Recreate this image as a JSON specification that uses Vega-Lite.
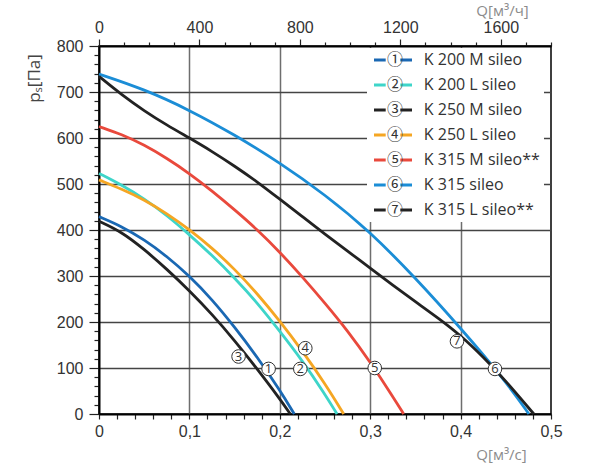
{
  "$schema": "https://vega.github.io/schema/vega-lite/v6.json",
  "width": 452,
  "height": 368,
  "autosize": {"type": "none"},
  "padding": {"left": 99, "top": 46, "right": 44, "bottom": 58},
  "background": "white",
  "config": {
    "view": {"stroke": "black", "strokeWidth": 1.5},
    "axis": {
      "labelFont": "Liberation Sans",
      "labelFontSize": 16,
      "labelColor": "#333333",
      "domainColor": "black",
      "domainWidth": 2,
      "tickColor": "#222222",
      "tickWidth": 1.2,
      "titleFont": "Open Sans",
      "titleFontWeight": "normal",
      "labelOverlap": false
    }
  },
  "datasets": {
    "curves": [
      {"series": "K 200 M sileo", "q": 0, "p": 429},
      {"series": "K 200 M sileo", "q": 0.025, "p": 408},
      {"series": "K 200 M sileo", "q": 0.05, "p": 379},
      {"series": "K 200 M sileo", "q": 0.075, "p": 343},
      {"series": "K 200 M sileo", "q": 0.1, "p": 300},
      {"series": "K 200 M sileo", "q": 0.125, "p": 249},
      {"series": "K 200 M sileo", "q": 0.15, "p": 189},
      {"series": "K 200 M sileo", "q": 0.175, "p": 124},
      {"series": "K 200 M sileo", "q": 0.2, "p": 52},
      {"series": "K 200 M sileo", "q": 0.216, "p": 0},

      {"series": "K 200 L sileo", "q": 0, "p": 523},
      {"series": "K 200 L sileo", "q": 0.025, "p": 498},
      {"series": "K 200 L sileo", "q": 0.05, "p": 468},
      {"series": "K 200 L sileo", "q": 0.075, "p": 432},
      {"series": "K 200 L sileo", "q": 0.1, "p": 390},
      {"series": "K 200 L sileo", "q": 0.125, "p": 345},
      {"series": "K 200 L sileo", "q": 0.15, "p": 296},
      {"series": "K 200 L sileo", "q": 0.175, "p": 242},
      {"series": "K 200 L sileo", "q": 0.2, "p": 180},
      {"series": "K 200 L sileo", "q": 0.225, "p": 116},
      {"series": "K 200 L sileo", "q": 0.25, "p": 43},
      {"series": "K 200 L sileo", "q": 0.2633, "p": 0},

      {"series": "K 250 M sileo", "q": 0, "p": 419},
      {"series": "K 250 M sileo", "q": 0.025, "p": 396},
      {"series": "K 250 M sileo", "q": 0.05, "p": 358},
      {"series": "K 250 M sileo", "q": 0.075, "p": 315},
      {"series": "K 250 M sileo", "q": 0.1, "p": 268},
      {"series": "K 250 M sileo", "q": 0.125, "p": 217},
      {"series": "K 250 M sileo", "q": 0.15, "p": 160},
      {"series": "K 250 M sileo", "q": 0.175, "p": 98},
      {"series": "K 250 M sileo", "q": 0.2, "p": 33},
      {"series": "K 250 M sileo", "q": 0.2116, "p": 0},

      {"series": "K 250 L sileo", "q": 0, "p": 509},
      {"series": "K 250 L sileo", "q": 0.025, "p": 489},
      {"series": "K 250 L sileo", "q": 0.05, "p": 466},
      {"series": "K 250 L sileo", "q": 0.075, "p": 436},
      {"series": "K 250 L sileo", "q": 0.1, "p": 401},
      {"series": "K 250 L sileo", "q": 0.125, "p": 361},
      {"series": "K 250 L sileo", "q": 0.15, "p": 315},
      {"series": "K 250 L sileo", "q": 0.175, "p": 262},
      {"series": "K 250 L sileo", "q": 0.2, "p": 202},
      {"series": "K 250 L sileo", "q": 0.225, "p": 137},
      {"series": "K 250 L sileo", "q": 0.25, "p": 66},
      {"series": "K 250 L sileo", "q": 0.2707, "p": 0},

      {"series": "K 315 M sileo**", "q": 0, "p": 625},
      {"series": "K 315 M sileo**", "q": 0.025, "p": 608},
      {"series": "K 315 M sileo**", "q": 0.05, "p": 585},
      {"series": "K 315 M sileo**", "q": 0.075, "p": 556},
      {"series": "K 315 M sileo**", "q": 0.1, "p": 523},
      {"series": "K 315 M sileo**", "q": 0.125, "p": 485},
      {"series": "K 315 M sileo**", "q": 0.15, "p": 444},
      {"series": "K 315 M sileo**", "q": 0.175, "p": 401},
      {"series": "K 315 M sileo**", "q": 0.2, "p": 352},
      {"series": "K 315 M sileo**", "q": 0.225, "p": 298},
      {"series": "K 315 M sileo**", "q": 0.25, "p": 241},
      {"series": "K 315 M sileo**", "q": 0.275, "p": 181},
      {"series": "K 315 M sileo**", "q": 0.3, "p": 113},
      {"series": "K 315 M sileo**", "q": 0.325, "p": 38},
      {"series": "K 315 M sileo**", "q": 0.337, "p": 0},

      {"series": "K 315 sileo", "q": 0, "p": 739},
      {"series": "K 315 sileo", "q": 0.05, "p": 706},
      {"series": "K 315 sileo", "q": 0.1, "p": 661},
      {"series": "K 315 sileo", "q": 0.15, "p": 607},
      {"series": "K 315 sileo", "q": 0.2, "p": 546},
      {"series": "K 315 sileo", "q": 0.25, "p": 477},
      {"series": "K 315 sileo", "q": 0.3, "p": 396},
      {"series": "K 315 sileo", "q": 0.35, "p": 296},
      {"series": "K 315 sileo", "q": 0.4, "p": 187},
      {"series": "K 315 sileo", "q": 0.45, "p": 71},
      {"series": "K 315 sileo", "q": 0.4755, "p": 0},

      {"series": "K 315 L sileo**", "q": 0, "p": 734},
      {"series": "K 315 L sileo**", "q": 0.025, "p": 694},
      {"series": "K 315 L sileo**", "q": 0.05, "p": 659},
      {"series": "K 315 L sileo**", "q": 0.075, "p": 628},
      {"series": "K 315 L sileo**", "q": 0.1, "p": 600},
      {"series": "K 315 L sileo**", "q": 0.125, "p": 571},
      {"series": "K 315 L sileo**", "q": 0.15, "p": 539},
      {"series": "K 315 L sileo**", "q": 0.175, "p": 505},
      {"series": "K 315 L sileo**", "q": 0.2, "p": 467},
      {"series": "K 315 L sileo**", "q": 0.225, "p": 429},
      {"series": "K 315 L sileo**", "q": 0.25, "p": 391},
      {"series": "K 315 L sileo**", "q": 0.275, "p": 354},
      {"series": "K 315 L sileo**", "q": 0.3, "p": 317},
      {"series": "K 315 L sileo**", "q": 0.325, "p": 280},
      {"series": "K 315 L sileo**", "q": 0.35, "p": 244},
      {"series": "K 315 L sileo**", "q": 0.375, "p": 209},
      {"series": "K 315 L sileo**", "q": 0.4, "p": 171},
      {"series": "K 315 L sileo**", "q": 0.425, "p": 124},
      {"series": "K 315 L sileo**", "q": 0.45, "p": 72},
      {"series": "K 315 L sileo**", "q": 0.481, "p": 0}
    ],
    "tags": [
      {"n": "1", "q": 0.1876, "p": 98},
      {"n": "2", "q": 0.2227, "p": 98},
      {"n": "3", "q": 0.1544, "p": 125},
      {"n": "4", "q": 0.2282, "p": 143},
      {"n": "5", "q": 0.305, "p": 100},
      {"n": "6", "q": 0.438, "p": 98},
      {"n": "7", "q": 0.396, "p": 158}
    ],
    "top": [{"qh": 0}, {"qh": 1800}]
  },
  "layer": [
    {
      "layer": [
        {
          "data": {"name": "curves"},
          "mark": {"type": "line", "interpolate": "basis", "strokeWidth": 2.8},
          "encoding": {
            "x": {
              "field": "q", "type": "quantitative",
              "scale": {"domain": [0, 0.5], "nice": false, "zero": false},
              "axis": {
                "orient": "bottom",
                "values": [0,0.02,0.04,0.06,0.08,0.1,0.12,0.14,0.16,0.18,0.2,0.22,0.24,0.26,0.28,0.3,0.32,0.34,0.36,0.38,0.4,0.42,0.44,0.46,0.48,0.5],
                "tickCount": 200,
                "labelExpr": "abs(datum.value*10 - round(datum.value*10)) < 0.000001 ? (datum.value == 0 ? '0' : replace(format(datum.value, '.1f'), '.', ',')) : ''",
                "labelPadding": 4,
                "tickSize": 5,
                "grid": true,
                "gridColor": "#6e6e6e",
                "gridWidth": 1.5,
                "gridOpacity": {"condition": {"test": "abs(datum.value*10 - round(datum.value*10)) < 0.000001 && datum.value > 0.01 && datum.value < 0.49", "value": 1}, "value": 0},
                "title": "Q[м³/с]",
                "titleX": 402,
                "titleY": 40,
                "titleAlign": "center",
                "titleBaseline": "middle",
                "titleColor": "#8c8c8c",
                "titleFontSize": 15,
                "labelFlush": false,
                "labelOverlap": false
              }
            },
            "y": {
              "field": "p", "type": "quantitative",
              "scale": {"domain": [0, 800], "nice": false},
              "axis": {
                "values": [0,20,40,60,80,100,120,140,160,180,200,220,240,260,280,300,320,340,360,380,400,420,440,460,480,500,520,540,560,580,600,620,640,660,680,700,720,740,760,780,800],
                "tickCount": 200,
                "labelExpr": "datum.value % 100 == 0 ? format(datum.value, 'd') : ''",
                "tickSize": {"condition": {"test": "datum.value % 100 == 0", "value": 10}, "value": 5},
                "labelPadding": 6,
                "grid": true,
                "gridColor": "#444444",
                "gridWidth": 1.5,
                "gridOpacity": {"condition": {"test": "datum.value % 100 == 0 && datum.value > 0 && datum.value < 800", "value": 1}, "value": 0},
                "title": "pₛ[Па]",
                "titleX": -65,
                "titleY": 32,
                "titleAngle": 270,
                "titleAlign": "center",
                "titleBaseline": "middle",
                "titleColor": "#444444",
                "titleFontSize": 17,
                "labelOverlap": false,
                "labelFlush": false
              }
            },
            "color": {
              "field": "series", "type": "nominal",
              "sort": ["K 200 M sileo", "K 200 L sileo", "K 250 M sileo", "K 250 L sileo", "K 315 M sileo**", "K 315 sileo", "K 315 L sileo**"],
              "scale": {
                "domain": ["K 200 M sileo", "K 200 L sileo", "K 250 M sileo", "K 250 L sileo", "K 315 M sileo**", "K 315 sileo", "K 315 L sileo**"],
                "range": ["#1a68b3", "#3ed5c9", "#222222", "#f5a623", "#e9493c", "#1b8dd6", "#222222"]
              },
              "legend": {
                "orient": "none",
                "legendX": 268,
                "legendY": 2,
                "title": null,
                "fillColor": "white",
                "padding": 4,
                "symbolType": "M-1,0H1.34M4.26,0H6.6",
                "symbolSize": 100,
                "symbolStrokeWidth": 3,
                "labelFont": "Open Sans, Noto Sans CJK SC",
                "labelFontSize": 16,
                "labelColor": "#333333",
                "labelOffset": 0,
                "rowPadding": 9,
                "labelLimit": 300,
                "labelExpr": "['①','②','③','④','⑤','⑥','⑦'][indexof(['K 200 M sileo','K 200 L sileo','K 250 M sileo','K 250 L sileo','K 315 M sileo**','K 315 sileo','K 315 L sileo**'], datum.label)] + '\u00a0\u00a0\u00a0\u00a0\u00a0' + datum.label"
              }
            }
          }
        },
        {
          "data": {"name": "tags"},
          "mark": {"type": "point", "shape": "circle", "filled": true, "fill": "white", "stroke": "#333333", "strokeWidth": 1, "size": 185, "opacity": 1},
          "encoding": {
            "x": {"field": "q", "type": "quantitative"},
            "y": {"field": "p", "type": "quantitative"}
          }
        },
        {
          "data": {"name": "tags"},
          "mark": {"type": "text", "font": "Open Sans", "fontSize": 13, "color": "#333333", "align": "center", "baseline": "middle"},
          "encoding": {
            "x": {"field": "q", "type": "quantitative"},
            "y": {"field": "p", "type": "quantitative"},
            "text": {"field": "n"}
          }
        }
      ]
    },
    {
      "data": {"name": "top"},
      "mark": {"type": "point", "opacity": 0},
      "encoding": {
        "x": {
          "field": "qh", "type": "quantitative",
          "scale": {"domain": [0, 1800], "nice": false},
          "axis": {
            "orient": "top",
            "values": [0,100,200,300,400,500,600,700,800,900,1000,1100,1200,1300,1400,1500,1600,1700,1800],
            "tickCount": 200,
            "labelExpr": "datum.value % 400 == 0 && datum.value < 1800 ? format(datum.value, 'd') : ''",
            "tickSize": {"condition": {"test": "datum.value % 400 == 0", "value": 7}, "value": 4},
            "labelPadding": 4,
            "grid": false,
            "title": "Q[м³/ч]",
            "titleX": 403,
            "titleY": -36,
            "titleAlign": "center",
            "titleBaseline": "middle",
            "titleColor": "#8c8c8c",
            "titleFontSize": 15,
            "labelOverlap": false,
            "labelFlush": false
          }
        }
      }
    }
  ],
  "resolve": {"scale": {"x": "independent"}}
}
